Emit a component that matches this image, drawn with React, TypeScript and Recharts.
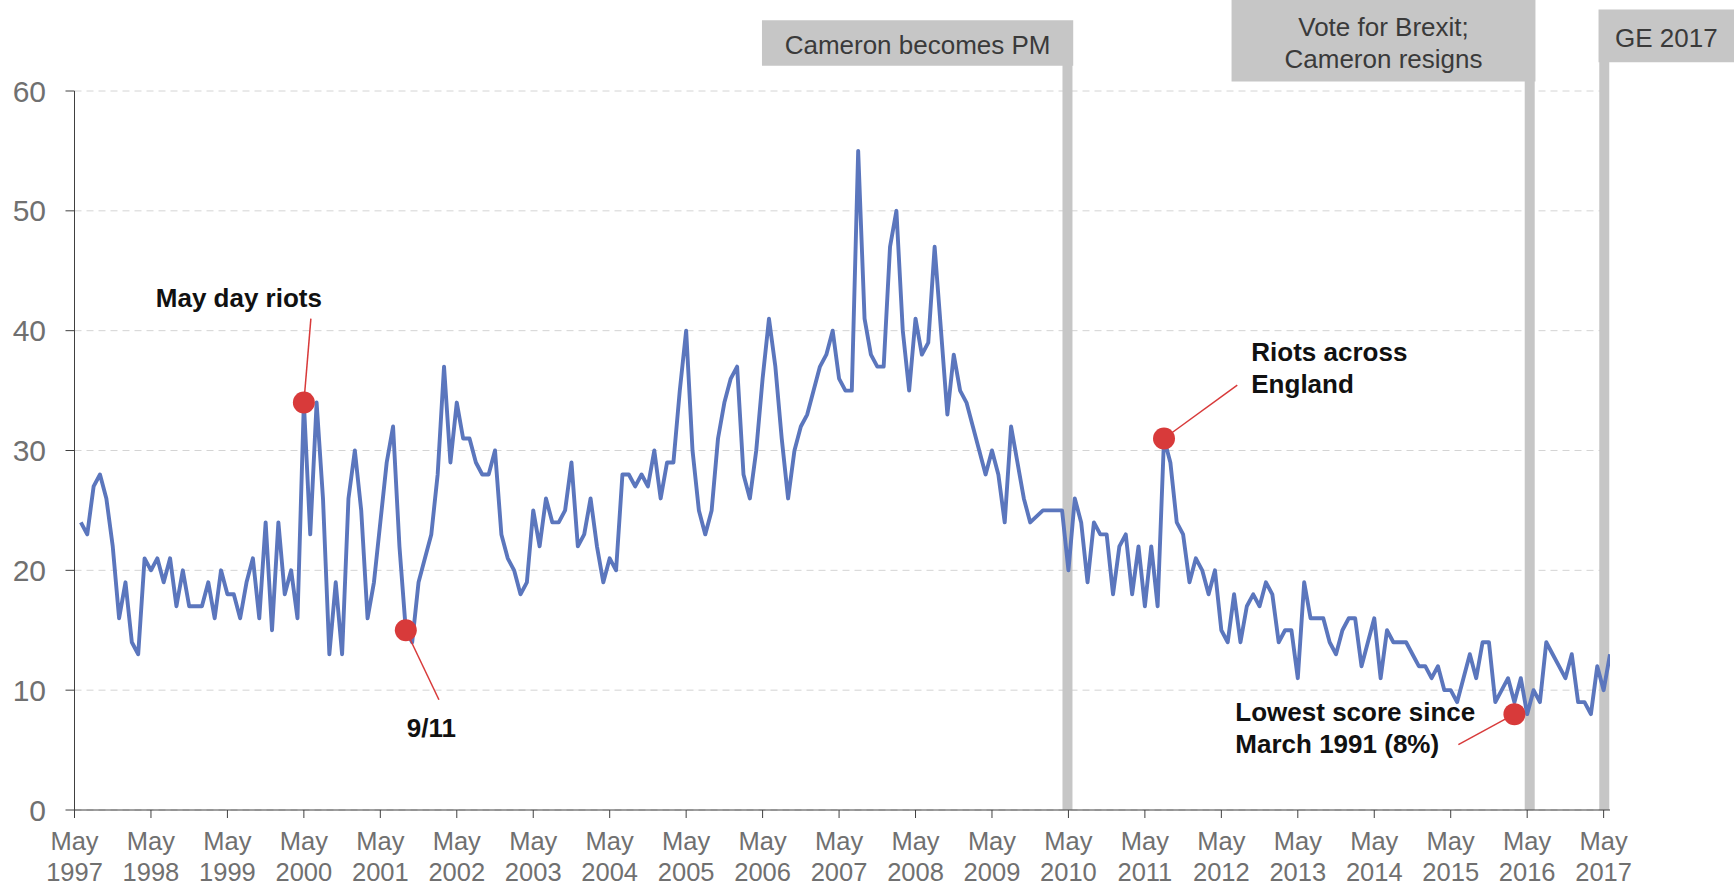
import { CartesianGrid, Line, LineChart, ReferenceArea, ReferenceDot, ReferenceLine, XAxis, YAxis } from "recharts";

// months are counted from May 1997 (0); the series starts June 1997
const FIRST_MONTH = 1;

const SCORES = [
  24, 23, 27, 28, 26, 22, 16, 19, 14, 13, 21, 20,
  21, 19, 21, 17, 20, 17, 17, 17, 19, 16, 20, 18,
  18, 16, 19, 21, 16, 24, 15, 24, 18, 20, 16, 34,
  23, 34, 26, 13, 19, 13, 26, 30, 25, 16, 19, 24,
  29, 32, 22, 15, 14, 19, 21, 23, 28, 37, 29, 34,
  31, 31, 29, 28, 28, 30, 23, 21, 20, 18, 19, 25,
  22, 26, 24, 24, 25, 29, 22, 23, 26, 22, 19, 21,
  20, 28, 28, 27, 28, 27, 30, 26, 29, 29, 35, 40,
  30, 25, 23, 25, 31, 34, 36, 37, 28, 26, 30, 36,
  41, 37, 31, 26, 30, 32, 33, 35, 37, 38, 40, 36,
  35, 35, 55, 41, 38, 37, 37, 47, 50, 40, 35, 41,
  38, 39, 47, 40, 33, 38, 35, 34, 32, 30, 28, 30,
  28, 24, 32, 29, 26, 24, 24.5, 25, 25, 25, 25, 20,
  26, 24, 19, 24, 23, 23, 18, 22, 23, 18, 22, 17,
  22, 17, 31, 29, 24, 23, 19, 21, 20, 18, 20, 15,
  14, 18, 14, 17, 18, 17, 19, 18, 14, 15, 15, 11,
  19, 16, 16, 16, 14, 13, 15, 16, 16, 12, 14, 16,
  11, 15, 14, 14, 14, 13, 12, 12, 11, 12, 10, 10,
  9, 11, 13, 11, 14, 14, 9, 10, 11, 9, 11, 8,
  10, 9, 14, 13, 12, 11, 13, 9, 9, 8, 12, 10,
  13,
];

const X_TICKS = [0, 12, 24, 36, 48, 60, 72, 84, 96, 108, 120, 132, 144, 156, 168, 180, 192, 204, 216, 228, 240];
const TICK_YEARS = ["1997", "1998", "1999", "2000", "2001", "2002", "2003", "2004", "2005", "2006", "2007",
  "2008", "2009", "2010", "2011", "2012", "2013", "2014", "2015", "2016", "2017"];
const Y_TICKS = [0, 10, 20, 30, 40, 50, 60];

// annotations (month, score)
const HIGHLIGHTS = [
  { m: 36, v: 34 },
  { m: 52, v: 15 },
  { m: 171, v: 31 },
  { m: 226, v: 8 },
];

const CALLOUTS = [
  { lines: ["May day riots"], m: 25.8, v: 41.95, anchor: "middle", from: [37.1, 41], to: [36, 34] },
  { lines: ["9/11"], m: 56, v: 6.1, anchor: "middle", from: [52, 15], to: [57.2, 9.2] },
  { lines: ["Riots across", "England"], m: 184.7, v: 37.5, anchor: "start", from: [171, 31], to: [182.5, 35.45] },
  { lines: ["Lowest score since", "March 1991 (8%)"], m: 182.2, v: 7.45, anchor: "start", from: [226, 8], to: [217.2, 5.45] },
];

const EVENTS = [
  { lines: ["Cameron becomes PM"], m: 155.85, box: [107.9, 156.75, 62.1, 65.9] },
  { lines: ["Vote for Brexit;", "Cameron resigns"], m: 228.4, box: [181.6, 229.3, 60.8, 67.6] },
  { lines: ["GE 2017"], m: 240.1, box: [239.2, 260.5, 62.4, 66.8] },
];

const FONT = "'Liberation Sans', Arial, Helvetica, sans-serif";
const LINE_BLUE = "#5b76bd";
const RED = "#d83a3a";
const EVENT_GREY = "#c6c6c6";
const AXIS_TEXT = "#707070";

const data = SCORES.map((v, k) => ({ m: FIRST_MONTH + k, v }));

function MonthTick({ x, y, payload }: any) {
  const idx = X_TICKS.indexOf(payload.value);
  return (
    <g fontFamily={FONT} fontSize={25.5} fill={AXIS_TEXT}>
      <text x={x} y={y + 32.4} textAnchor="middle">May</text>
      <text x={x} y={y + 63.4} textAnchor="middle">{TICK_YEARS[idx]}</text>
    </g>
  );
}

function CalloutText({ cx, cy, lines, anchor }: any) {
  return (
    <text x={cx} y={cy} textAnchor={anchor} fontFamily={FONT} fontSize={26} fontWeight="bold" fill="#111">
      {lines.map((l: string, i: number) => (
        <tspan key={i} x={cx} dy={i === 0 ? 0 : 32}>{l}</tspan>
      ))}
    </text>
  );
}

function BoxLabel({ viewBox, lines }: any) {
  const { x, y, width, height } = viewBox;
  const cx = x + width / 2;
  const cy = y + height / 2 + 2;
  const first = cy - ((lines.length - 1) * 32) / 2 + 9.3;
  return (
    <text x={cx} y={first} textAnchor="middle" fontFamily={FONT} fontSize={26} fill="#3a3a3a">
      {lines.map((l: string, i: number) => (
        <tspan key={i} x={cx} dy={i === 0 ? 0 : 32}>{l}</tspan>
      ))}
    </text>
  );
}

export default function App() {
  return (
    <div style={{ position: "absolute", left: 0, top: 0, width: 1734, height: 886, background: "#fff" }}>
      <LineChart width={1734} height={886} data={data} margin={{ top: 91, right: 124, bottom: 6, left: 0 }}>
        <CartesianGrid vertical={false} stroke="#d4d4d4" strokeDasharray="7 5" />
        <XAxis
          type="number"
          dataKey="m"
          domain={[0, 241]}
          ticks={X_TICKS}
          interval={0}
          allowDataOverflow
          height={70}
          tickSize={8}
          tickMargin={0}
          axisLine={{ stroke: "#404040" }}
          tickLine={{ stroke: "#404040" }}
          tick={<MonthTick />}
        />
        <YAxis
          domain={[0, 60]}
          ticks={Y_TICKS}
          width={74.5}
          tickSize={9}
          tickMargin={19.5}
          axisLine={{ stroke: "#404040" }}
          tickLine={{ stroke: "#404040" }}
          tick={{ fontSize: 30, fill: AXIS_TEXT, fontFamily: FONT }}
        />
        {EVENTS.map((e) => (
          <ReferenceLine
            key={"bar" + e.m}
            segment={[{ x: e.m, y: 0 }, { x: e.m, y: 63 }]}
            stroke={EVENT_GREY}
            strokeWidth={10}
            ifOverflow="visible"
            zIndex={350}
          />
        ))}
        <Line
          type="linear"
          dataKey="v"
          stroke={LINE_BLUE}
          strokeWidth={3.9}
          strokeLinejoin="round"
          dot={false}
          activeDot={false}
          isAnimationActive={false}
        />
        {EVENTS.map((e) => (
          <ReferenceArea
            key={"box" + e.m}
            x1={e.box[0]}
            x2={e.box[1]}
            y1={e.box[2]}
            y2={e.box[3]}
            fill={EVENT_GREY}
            fillOpacity={1}
            stroke="none"
            ifOverflow="visible"
            zIndex={1500}
            label={(p: any) => <BoxLabel viewBox={p.viewBox} lines={e.lines} />}
          />
        ))}
        {CALLOUTS.map((c) => (
          <ReferenceLine
            key={"lead" + c.m}
            segment={[{ x: c.from[0], y: c.from[1] }, { x: c.to[0], y: c.to[1] }]}
            stroke={RED}
            strokeWidth={1.5}
            ifOverflow="visible"
            zIndex={1600}
          />
        ))}
        {HIGHLIGHTS.map((h) => (
          <ReferenceDot
            key={"dot" + h.m}
            x={h.m}
            y={h.v}
            r={11}
            fill={RED}
            stroke="none"
            ifOverflow="visible"
            zIndex={1700}
          />
        ))}
        {CALLOUTS.map((c) => (
          <ReferenceDot
            key={"txt" + c.m}
            x={c.m}
            y={c.v}
            r={0}
            ifOverflow="visible"
            zIndex={1800}
            shape={(p: any) => <CalloutText cx={p.cx} cy={p.cy} lines={c.lines} anchor={c.anchor} />}
          />
        ))}
      </LineChart>
    </div>
  );
}
